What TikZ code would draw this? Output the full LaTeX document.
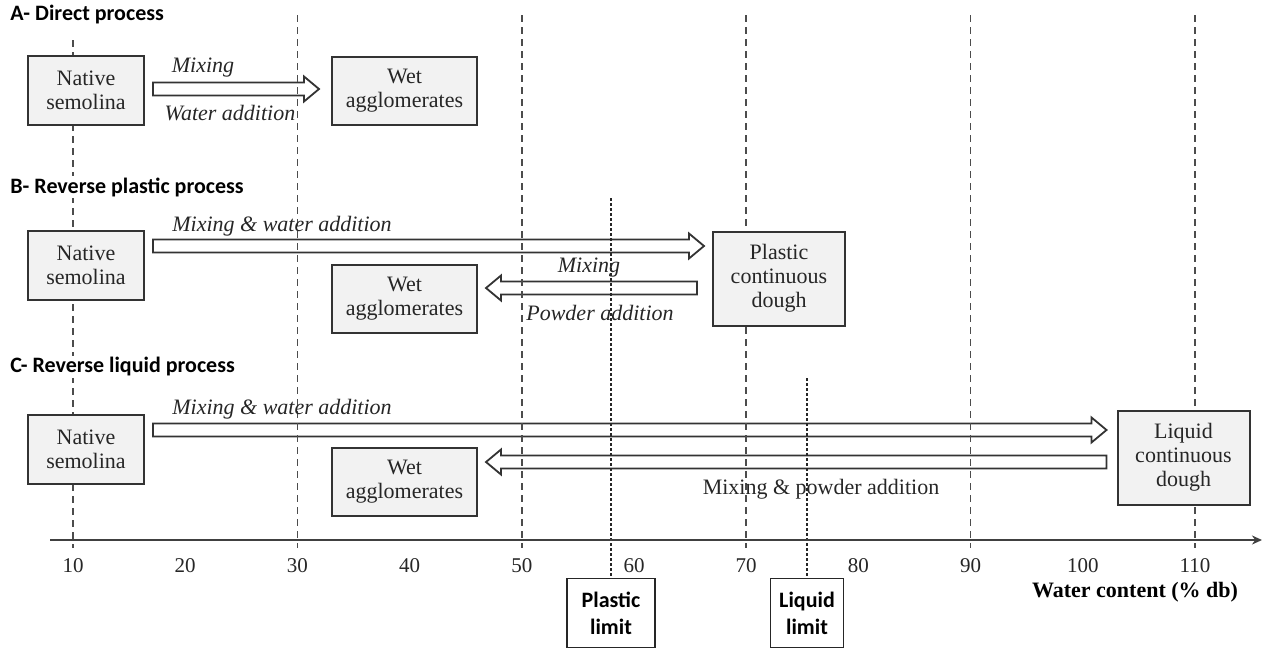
\documentclass[tikz,border=0pt]{standalone}
\usepackage{fontspec}
\setmainfont{Liberation Serif}
\newfontfamily\calibri{Carlito}
\usepackage{tikz}
\usetikzlibrary{positioning,arrows.meta,calc,backgrounds}
\tikzset{
  pbox/.style    ={rectangle, draw=black!80, line width=1pt, fill=black!5, text=black!85,
                   align=center, inner sep=2pt, font=\fontsize{11}{12}\selectfont},
  nsbox/.style   ={pbox, minimum width=58pt, minimum height=34.5pt},
  wetbox/.style  ={pbox, minimum width=72.5pt, minimum height=34pt},
  doughbox/.style={pbox, minimum width=66pt, minimum height=47pt},
  limbox/.style  ={rectangle, draw=black!85, line width=0.6pt, fill=white, align=center,
                   minimum height=34.5pt, anchor=north, inner sep=2pt,
                   font=\calibri\bfseries\fontsize{11}{13.5}\selectfont},
  ptitle/.style  ={font=\calibri\bfseries\fontsize{11}{13}\selectfont, anchor=west,
                   fill=white, inner sep=1pt},
  alab/.style    ={font=\itshape\fontsize{11}{13}\selectfont, text=black!85, inner sep=1pt},
  plab/.style    ={font=\fontsize{11}{13}\selectfont, text=black!85, inner sep=1pt},
  ticklab/.style ={font=\fontsize{10.5}{12}\selectfont, text=black!85, inner sep=1pt},
  blk/.style     ={draw=black!80, line width=0.9pt, fill=white, line join=miter},
  vgrid/.style   ={draw=black!70, line width=0.75pt, dash pattern=on 3.5pt off 2.5pt},
  limline/.style ={draw=black!85, line width=0.65pt, dash pattern=on 1.5pt off 1pt},
  axisln/.style  ={draw=black!75, line width=1.1pt, -{Stealth[length=5pt,width=4.5pt]}},
}
% block arrow from #1 to #2 at height #3
\newcommand{\barr}[3]{%
  \draw[blk] let \p1=#1, \p2=#2, \p3=(0,#3), \n2={\x2-7.5pt*sign(\x2-\x1)} in
    (\x1,{\y3+3.25pt}) -- (\n2,{\y3+3.25pt}) -- (\n2,{\y3+6.25pt}) -- (\x2,\y3)
    -- (\n2,{\y3-6.25pt}) -- (\n2,{\y3-3.25pt}) -- (\x1,{\y3-3.25pt}) -- cycle;}

\begin{document}
\begin{tikzpicture}[x=0.5pt, y=-0.5pt]
  \useasboundingbox (0,0) rectangle (1263,648);

  % A- direct process
  \node[ptitle] (titA) at (8,15) {A- Direct process};
  \node[nsbox] (nsA) at (86,90.5) {Native\\semolina};
  \node[wetbox] (wetA) at (404.5,90.5) {Wet\\agglomerates};
  \node[alab] (mixA) at (203,68) {Mixing};
  \node[alab] (waterA) at (230,113) {Water addition};

  % B- reverse plastic process
  \node[ptitle] (titB) at (8,187) {B- Reverse plastic process};
  \node[nsbox] (nsB) at (86,265) {Native\\semolina};
  \node[doughbox] (pcd) at (779,278.5) {Plastic\\continuous\\dough};
  \node[wetbox] (wetB) at (404.5,298.5) {Wet\\agglomerates};
  \node[alab] (mixB) at (282,226) {Mixing \& water addition};
  \node[alab] (mixB2) at (589,268) {Mixing};
  \node[alab] (powB) at (600,313) {Powder addition};

  % C- reverse liquid process
  \node[ptitle] (titC) at (8,367) {C- Reverse liquid process};
  \node[nsbox] (nsC) at (86,449.5) {Native\\semolina};
  \node[doughbox] (lcd) at (1183.5,457.5) {Liquid\\continuous\\dough};
  \node[wetbox] (wetC) at (404.5,481.5) {Wet\\agglomerates};
  \node[alab] (mixC) at (282,409) {Mixing \& water addition};
  \node[plab] (powC) at (821,489) {Mixing \& powder addition};

  % axis
  \coordinate (ax0) at (50,540);
  \coordinate (ax1) at (1262,540);
  \foreach \v in {10,20,...,110}
    \node[ticklab] (t\v) at ({73+(\v-10)*11.22},566) {\v};
  \node[font=\bfseries\fontsize{11}{13}\selectfont, inner sep=1pt] (wc) at (1135,592) {Water content (\% db)};
  \node[limbox, minimum width=44pt] (plim) at (611,578) {Plastic\\limit};
  \node[limbox, minimum width=36.5pt] (llim) at (807,578) {Liquid\\limit};

  \begin{scope}[on background layer]
    \barr{($(nsA.east)+(8,0)$)}{($(wetA.west)+(-12,0)$)}{89}
    \barr{($(nsB.east)+(8,0)$)}{($(pcd.west)+(-8,0)$)}{246}
    \barr{($(pcd.west)+(-15,0)$)}{($(wetB.east)+(8,0)$)}{288}
    \barr{($(nsC.east)+(8,0)$)}{($(lcd.west)+(-10,0)$)}{430}
    \barr{($(lcd.west)+(-10,0)$)}{($(wetC.east)+(8,0)$)}{462}
    \foreach \v in {30,50,...,110}
      \draw[vgrid] ({73+(\v-10)*11.22},15) -- ({73+(\v-10)*11.22},548);
    \draw[vgrid] (73,40) -- (73,548);
    \draw[limline] (plim.north |- 0,198) -- (plim.north);
    \draw[limline] (llim.north |- 0,378) -- (llim.north);
    \draw[axisln] (ax0) -- (ax1);
  \end{scope}
\end{tikzpicture}
\end{document}
